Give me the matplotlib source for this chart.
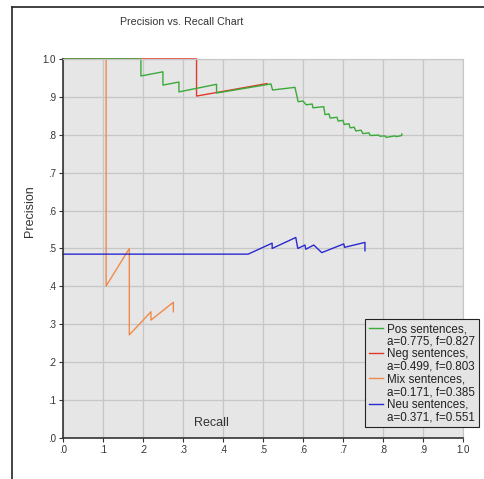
import matplotlib
matplotlib.use('Agg')
import matplotlib.pyplot as plt
from matplotlib.lines import Line2D

plt.rcParams['font.family'] = ['Liberation Sans', 'DejaVu Sans']

# recall / precision points
pos_x = [0.0, 0.195, 0.195, 0.25, 0.25, 0.29, 0.29, 0.384, 0.384, 0.52, 0.524, 0.58, 0.588,
         0.60, 0.608, 0.623, 0.625, 0.652, 0.655, 0.665, 0.668, 0.685, 0.688, 0.70, 0.703,
         0.715, 0.718, 0.728, 0.732, 0.745, 0.75, 0.765, 0.768, 0.79, 0.792, 0.805, 0.808,
         0.83, 0.833, 0.847, 0.847]
pos_y = [1.0, 1.0, 0.955, 0.966, 0.931, 0.939, 0.913, 0.933, 0.910, 0.934, 0.918, 0.925, 0.887,
         0.889, 0.879, 0.881, 0.871, 0.874, 0.853, 0.855, 0.844, 0.846, 0.836, 0.838, 0.827,
         0.829, 0.818, 0.820, 0.810, 0.812, 0.803, 0.805, 0.798, 0.799, 0.796, 0.797, 0.793,
         0.797, 0.795, 0.798, 0.802]

neg_x = [0.0, 0.334, 0.334, 0.51]
neg_y = [1.0, 1.0, 0.902, 0.935]

mix_x = [0.0, 0.108, 0.108, 0.166, 0.166, 0.22, 0.22, 0.276, 0.276]
mix_y = [1.0, 1.0, 0.401, 0.5, 0.272, 0.333, 0.311, 0.358, 0.333]

neu_x = [0.0, 0.463, 0.523, 0.523, 0.582, 0.587, 0.605, 0.607, 0.627, 0.647, 0.702, 0.704, 0.755, 0.755]
neu_y = [0.485, 0.485, 0.514, 0.500, 0.529, 0.500, 0.509, 0.498, 0.509, 0.489, 0.512, 0.503, 0.516, 0.494]

names = ['Pos sentences,', 'Neg sentences,', 'Mix sentences,', 'Neu sentences,']
scores = ['a=0.775, f=0.827', 'a=0.499, f=0.803', 'a=0.171, f=0.385', 'a=0.371, f=0.551']
ticks = [0.0, 0.1, 0.2, 0.3, 0.4, 0.5, 0.6, 0.7, 0.8, 0.9, 1.0]
tick_labels = ['.0', '.1', '.2', '.3', '.4', '.5', '.6', '.7', '.8', '.9', '1.0']

fig = plt.figure(figsize=(4.84, 4.79), dpi=100)
ax = fig.add_axes([0.130, 0.0856, 0.8266, 0.7914])
ax.set_facecolor('#e6e6e6')

l_mix, = ax.plot(mix_x, mix_y, color='#f08a4b', lw=1, clip_on=False)
l_neu, = ax.plot(neu_x, neu_y, color='#2a2ad0', lw=1, clip_on=False)
l_neg, = ax.plot(neg_x, neg_y, color='#e03a2a', lw=1, clip_on=False)
l_pos, = ax.plot(pos_x, pos_y, color='#3aaa3a', lw=1, clip_on=False)

ax.set_xlim(0, 1)
ax.set_ylim(0, 1)
ax.set_xticks(ticks)
ax.set_xticklabels(tick_labels)
ax.set_yticks(ticks)
ax.set_yticklabels(tick_labels)
ax.tick_params(labelsize=7, length=3, width=0.8, colors='#333333', pad=2)
ax.grid(True, color='#c6c6c6', lw=0.9)
ax.set_axisbelow(True)
for s in ['top', 'right']:
    ax.spines[s].set_color('#c6c6c6')
for s in ['left', 'bottom']:
    ax.spines[s].set_color('#333333')
    ax.spines[s].set_linewidth(1.2)

ax.text(0.37, 0.04, 'Recall', fontsize=9, color='#333333', ha='center', va='center')
fig.text(0.062, 0.56, 'Precision', fontsize=9, color='#333333', rotation=90, ha='center', va='center')
fig.text(0.376, 0.954, 'Precision vs. Recall Chart', fontsize=7.7, color='#333333', ha='center', va='center')

# legend: handle on first line of each two-line entry
handles, texts = [], []
for line, n, s in zip([l_pos, l_neg, l_mix, l_neu], names, scores):
    handles += [Line2D([], [], color=line.get_color(), lw=1), Line2D([], [], color='none')]
    texts += [n, s]
leg = fig.legend(handles, texts, loc='lower left',
                 bbox_to_anchor=(0.754, 0.108), fontsize=8.4, frameon=True, fancybox=False,
                 handlelength=1.2, handletextpad=0.3, borderpad=0.35, labelspacing=0.05,
                 borderaxespad=0)
for t in leg.get_texts():
    t.set_color('#222222')
leg.get_frame().set_facecolor('#e4e4e4')
leg.get_frame().set_edgecolor('#222222')
leg.get_frame().set_linewidth(0.8)
leg.get_frame().set_alpha(1)

# window frame on left and top
fig.add_artist(Line2D([12 / 484, 12 / 484], [0, 1 - 7 / 479], color='#222222', lw=1.2))
fig.add_artist(Line2D([12 / 484, 1], [1 - 7 / 479, 1 - 7 / 479], color='#222222', lw=1.2))

fig.savefig('out.png', dpi=100)
